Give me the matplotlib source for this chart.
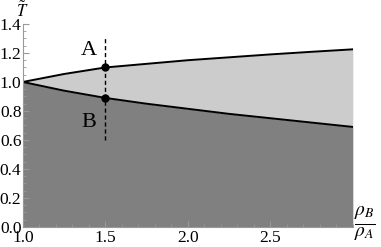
import numpy as np
import matplotlib.pyplot as plt
from matplotlib.ticker import MultipleLocator

# Values
ratio = [1.0, 1.25, 1.5, 1.75, 2.0, 2.25, 2.5, 2.75, 3.0]
t_upper = [1.0, 1.055, 1.10, 1.125, 1.15, 1.17, 1.19, 1.208, 1.225]
t_lower = [1.0, 0.94, 0.89, 0.85, 0.815, 0.78, 0.75, 0.72, 0.69]
x_mark = 1.5
t_mark = [1.10, 0.89]
mark_names = ["A", "B"]

plt.rcParams["font.family"] = "serif"
plt.rcParams["font.serif"] = ["Liberation Serif", "DejaVu Serif"]
plt.rcParams["mathtext.fontset"] = "stix"

fig = plt.figure(figsize=(3.81, 2.47), dpi=100)
ax = fig.add_axes([0.060, 0.081, 0.866, 0.822])

ax.fill_between(ratio, 0, t_lower, color="#808080", lw=0)
ax.fill_between(ratio, t_lower, t_upper, color="#cccccc", lw=0)
ax.plot(ratio, t_upper, color="black", lw=1.4)
ax.plot(ratio, t_lower, color="black", lw=1.4)

ax.plot([x_mark, x_mark], [0.6, 1.3], color="black", lw=1.0, ls=(0, (3, 2)))
ax.plot([x_mark] * 2, t_mark, "o", color="black", ms=5)
ax.text(1.40, 1.22, mark_names[0], fontsize=16, ha="center", va="center")
ax.text(1.40, 0.72, mark_names[1], fontsize=16, ha="center", va="center")

ax.set_xlim(1.0, 3.0)
ax.set_ylim(0.0, 1.4)
ax.set_xticks([1.0, 1.5, 2.0, 2.5])
ax.set_yticks(np.arange(0, 1.41, 0.2))
ax.xaxis.set_minor_locator(MultipleLocator(0.1))
ax.yaxis.set_minor_locator(MultipleLocator(0.05))
ax.tick_params(which="both", direction="in", color="#999999", labelsize=12.5)
ax.tick_params(axis="x", pad=2.5)
ax.tick_params(axis="y", pad=1)
ax.tick_params(which="major", length=4, width=0.8)
ax.tick_params(which="minor", length=2, width=0.6)
for s in ["top", "right"]:
    ax.spines[s].set_visible(False)
for s in ["left", "bottom"]:
    ax.spines[s].set_color("#999999")
    ax.spines[s].set_linewidth(0.8)

fig.text(0.058, 0.998, r"$\tilde{T}$", fontsize=12, ha="center", va="top")
fig.text(0.958, 0.095, r"$\frac{\rho_B}{\rho_A}$", fontsize=20, ha="center", va="center")

fig.savefig("out.png", dpi=100)
